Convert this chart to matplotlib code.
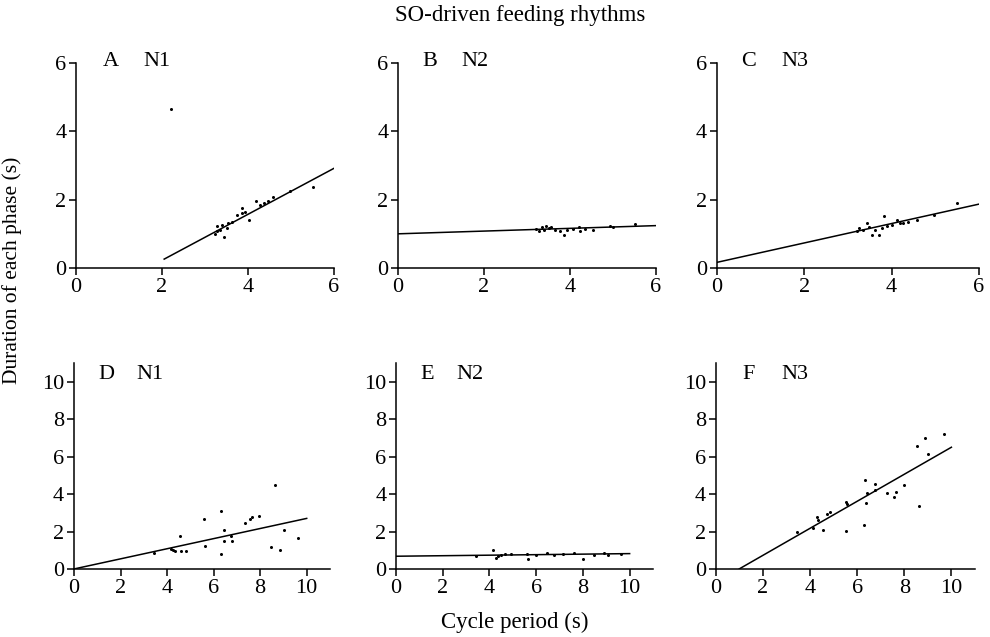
import matplotlib.pyplot as plt

plt.rcParams['font.family'] = ['Liberation Serif', 'DejaVu Serif']

# panel A (N1, top): cycle period vs phase duration
a_x = [3.23, 3.27, 3.35, 3.39, 3.44, 3.5, 3.54, 3.62, 3.74, 3.85, 3.85, 3.93, 4.03,
       4.19, 4.28, 4.37, 4.47, 4.57, 4.98, 5.52, 3.27, 2.2]
a_y = [0.99, 1.07, 1.12, 1.26, 0.92, 1.17, 1.33, 1.36, 1.56, 1.6, 1.77, 1.65, 1.41,
       1.95, 1.85, 1.9, 1.97, 2.07, 2.24, 2.36, 1.22, 4.64]
# panel B (N2, top)
b_x = [3.22, 3.28, 3.34, 3.39, 3.45, 3.52, 3.57, 3.65, 3.77, 3.87, 3.93, 4.08, 4.22,
       4.23, 4.35, 4.54, 4.93, 5.0, 5.51]
b_y = [1.14, 1.07, 1.2, 1.1, 1.24, 1.17, 1.2, 1.12, 1.07, 0.97, 1.12, 1.14, 1.2,
       1.07, 1.14, 1.1, 1.22, 1.2, 1.29]
# panel C (N3, top)
c_x = [3.2, 3.26, 3.35, 3.43, 3.49, 3.54, 3.62, 3.72, 3.77, 3.82, 3.89, 4.0, 4.12,
       4.19, 4.27, 4.38, 4.58, 4.96, 5.49]
c_y = [1.07, 1.17, 1.1, 1.31, 1.2, 0.97, 1.12, 0.97, 1.17, 1.51, 1.22, 1.26, 1.41,
       1.33, 1.33, 1.36, 1.41, 1.56, 1.9]
# panel D (N1, bottom)
d_x = [3.43, 4.19, 4.26, 4.33, 4.54, 4.61, 4.83, 5.59, 5.61, 6.33, 6.33, 6.43, 6.43,
       6.76, 6.8, 7.33, 7.57, 7.66, 7.94, 8.47, 8.64, 8.87, 9.01, 9.64]
d_y = [0.86, 1.07, 1.0, 0.94, 1.75, 0.94, 0.98, 2.67, 1.25, 3.08, 0.82, 2.07, 1.5,
       1.75, 1.52, 2.46, 2.67, 2.78, 2.85, 1.18, 4.46, 1.0, 2.1, 1.66]
# panel E (N2, bottom)
e_x = [3.44, 4.16, 4.26, 4.36, 4.48, 4.65, 4.91, 5.62, 5.65, 5.98, 6.48, 6.77, 7.13,
       7.6, 7.99, 8.49, 8.9, 9.07, 9.64]
e_y = [0.71, 1.03, 0.59, 0.68, 0.77, 0.82, 0.82, 0.82, 0.55, 0.77, 0.86, 0.77, 0.82,
       0.86, 0.55, 0.77, 0.86, 0.77, 0.82]
# panel F (N3, bottom)
f_x = [3.45, 4.13, 4.27, 4.34, 4.53, 4.7, 4.84, 5.52, 5.54, 5.57, 6.28, 6.35, 6.39,
       6.42, 6.75, 6.77, 7.27, 7.57, 7.64, 7.98, 8.52, 8.63, 8.87, 9.01, 9.69]
f_y = [1.96, 2.19, 2.78, 2.64, 2.1, 2.96, 3.03, 2.01, 3.56, 3.49, 2.37, 4.74, 3.53,
       4.03, 4.55, 4.21, 4.03, 3.85, 4.1, 4.47, 6.56, 3.35, 7.0, 6.13, 7.2]

# regression lines: slope, intercept, x range
fit_slope = [0.673, 0.04, 0.284, 0.27, 0.014, 0.721]
fit_intercept = [-1.12, 1.0, 0.165, 0.0, 0.68, -0.71]
fit_start = [2.05, 0, 0, 0, 0, 0.99]
fit_end = [6, 6, 6, 10, 10, 10]

letters = ['A', 'B', 'C', 'D', 'E', 'F']
neurons = ['N1', 'N2', 'N3', 'N1', 'N2', 'N3']
xs = [a_x, b_x, c_x, d_x, e_x, f_x]
ys = [a_y, b_y, c_y, d_y, e_y, f_y]

fig = plt.figure(figsize=(9.9, 6.37), dpi=100)
boxes = [
    [0.0768, 0.5793, 0.2606, 0.3218],
    [0.4020, 0.5793, 0.2606, 0.3218],
    [0.7242, 0.5793, 0.2646, 0.3218],
    [0.0747, 0.1068, 0.2586, 0.3234],
    [0.4000, 0.1068, 0.2596, 0.3234],
    [0.7232, 0.1068, 0.2616, 0.3234],
]
letter_x = [0.105, 0.096, 0.094, 0.094, 0.093, 0.103]
neuron_x = [0.26, 0.247, 0.247, 0.242, 0.233, 0.254]

for i in range(6):
    ax = fig.add_axes(boxes[i])
    ax.plot(xs[i], ys[i], 'o', color='black', ms=2.2, mew=0)
    x0, x1 = fit_start[i], fit_end[i]
    ax.plot([x0, x1],
            [fit_slope[i] * x0 + fit_intercept[i], fit_slope[i] * x1 + fit_intercept[i]],
            color='black', lw=1.1)
    if i < 3:
        ax.set_xlim(0, 6)
        ax.set_ylim(0, 6)
        ax.set_xticks([0, 2, 4, 6])
        ax.set_yticks([0, 2, 4, 6])
        ty = 1.007
    else:
        ax.set_xlim(0, 11)
        ax.set_ylim(0, 11)
        ax.set_xticks([0, 2, 4, 6, 8, 10])
        ax.set_yticks([0, 2, 4, 6, 8, 10])
        ty = 0.942
    ax.spines['top'].set_visible(False)
    ax.spines['right'].set_visible(False)
    for s in ['left', 'bottom']:
        ax.spines[s].set_linewidth(1.1)
    ax.tick_params(direction='out', length=5, width=1.1, labelsize=16, pad=2)
    ax.text(letter_x[i], ty, letters[i], transform=ax.transAxes, fontsize=16,
            ha='left', va='center')
    ax.text(neuron_x[i], ty, neurons[i], transform=ax.transAxes, fontsize=16,
            ha='left', va='center')

fig.text(0.525, 0.976, 'SO-driven feeding rhythms', ha='center', va='center', fontsize=16.5)
fig.text(0.52, 0.023, 'Cycle period (s)', ha='center', va='center', fontsize=16.5)
fig.text(0.012, 0.576, 'Duration of each phase (s)', ha='center', va='center',
         rotation=90, fontsize=15.5)

plt.savefig('out.png', dpi=100)
